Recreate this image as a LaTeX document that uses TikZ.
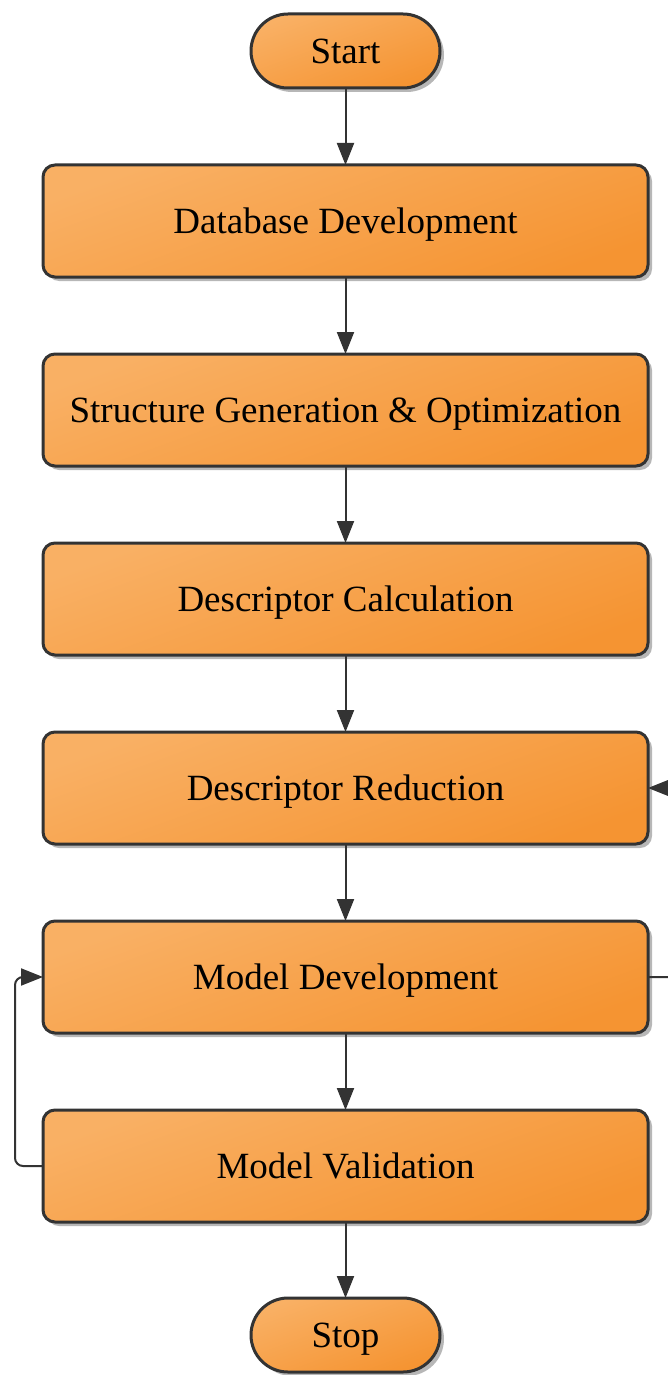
\documentclass[tikz,border=0pt]{standalone}
\usepackage{fontspec}
\setmainfont{Liberation Serif}
\usepackage{tikz}
\newcommand{\stepwidth}{605pt}
\newcommand{\stepheight}{112pt}
\usetikzlibrary{arrows.meta}
\usetikzlibrary{shapes.misc}
\usetikzlibrary{shadows}
\definecolor{boxlight}{RGB}{249,176,100}
\definecolor{boxdark}{RGB}{245,148,50}
\definecolor{edgegray}{RGB}{51,51,51}
\tikzstyle{block}=[draw=edgegray, line width=3pt, inner sep=0, outer sep=0, text depth=0pt,
                   top color=boxlight, bottom color=boxdark, shading angle=20,
                   drop shadow={shadow xshift=4pt, shadow yshift=-4pt, fill=black!40, opacity=0.7},
                   font=\fontsize{37pt}{44pt}\selectfont]
\tikzstyle{stepbox}=[block, rounded corners=12pt, minimum width=\stepwidth, minimum height=\stepheight]
\tikzstyle{terminal}=[block, rounded rectangle, minimum width=189pt, minimum height=74pt]
\tikzstyle{flow}=[draw=edgegray, line width=2pt, -{Triangle[length=22pt,width=17pt]}]

\begin{document}
\begin{tikzpicture}[x=1pt, y=-1pt]
        % Fixed frame, same proportions as the page.
        \useasboundingbox (0, 0) rectangle (667, 1375);
        \node[terminal] (start) at (345.5, 51) {Start};
        \node[stepbox] (database) at (345.5, 221) {Database Development};
        \node[stepbox] (structure) at (345.5, 410) {Structure Generation \& Optimization};
        \node[stepbox] (calc) at (345.5, 599) {Descriptor Calculation};
        \node[stepbox] (reduction) at (345.5, 788) {Descriptor Reduction};
        \node[stepbox] (development) at (345.5, 977) {Model Development};
        \node[stepbox] (validation) at (345.5, 1166) {Model Validation};
        \node[terminal] (stop) at (345.5, 1335) {Stop};
        \draw[flow] (start) -- (database);
        \draw[flow] (database) -- (structure);
        \draw[flow] (structure) -- (calc);
        \draw[flow] (calc) -- (reduction);
        \draw[flow] (reduction) -- (development);
        \draw[flow] (development) -- (validation);
        \draw[flow] (validation) -- (stop);
        \draw[flow, rounded corners=8pt] (validation.west) -- +(-28, 0) |- (development.west);
        \draw[flow, rounded corners=8pt] (development.east) -- +(40, 0) |- (reduction.east);
    \end{tikzpicture}
\end{document}
